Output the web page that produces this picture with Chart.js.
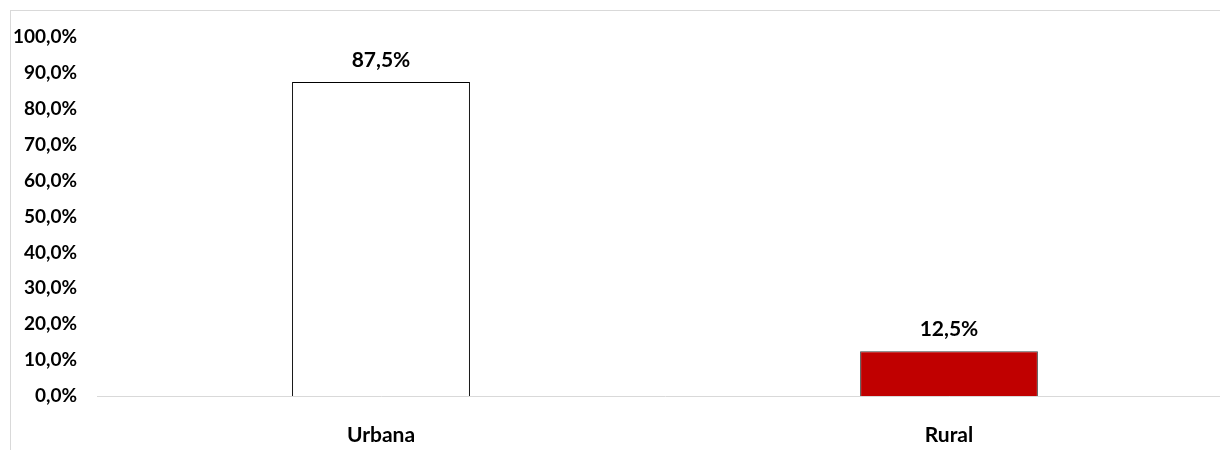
<!DOCTYPE html>
<html>
<head>
<meta charset="utf-8">
<script src="https://cdn.jsdelivr.net/npm/chart.js@4"></script>
<style>
  html, body { margin: 0; padding: 0; background: #fff; overflow: hidden; }
  #frame { position: absolute; left: 10px; top: 10px; width: 1300px; height: 500px;
           border-left: 1px solid #d9d9d9; border-top: 1px solid #d9d9d9; }
  #wrap { position: absolute; left: 0; top: 0; width: 1240px; height: 450px; }
</style>
</head>
<body>
<div id="frame"></div>
<div id="wrap"><canvas id="chart"></canvas></div>
<script>
// data
const categories = ['Urbana', 'Rural'];
const shares = [87.5, 12.5];
const barColors = ['#ffffff', '#c00000'];
const yTicks = [0, 10, 20, 30, 40, 50, 60, 70, 80, 90, 100];

const fmt = v => v.toFixed(1).replace('.', ',') + '%';
const fontFamily = 'Lato, "Liberation Sans", sans-serif';

// labels above each bar
const valueLabels = {
    id: 'valueLabels',
    afterDatasetsDraw(chart) {
        const ctx = chart.ctx;
        const meta = chart.getDatasetMeta(0);
        ctx.save();
        ctx.font = 'bold 21px ' + fontFamily;
        ctx.fillStyle = '#000';
        ctx.textAlign = 'center';
        ctx.textBaseline = 'middle';
        meta.data.forEach((bar, i) => {
            ctx.fillText(fmt(shares[i]), bar.x, bar.y - 22);
        });
        ctx.restore();
    }
};

new Chart(document.getElementById('chart'), {
    type: 'bar',
    data: {
        labels: categories,
        datasets: [{
            data: shares,
            backgroundColor: barColors,
            borderColor: ['#000000', '#404040'],
            borderWidth: 1,
            categoryPercentage: 0.626,
            barPercentage: 0.5
        }]
    },
    options: {
        responsive: true,
        maintainAspectRatio: false,
        animation: false,
        layout: { padding: { top: 37, right: 7, left: 0, bottom: 0 } },
        plugins: { legend: { display: false }, tooltip: { enabled: false } },
        scales: {
            x: {
                grid: { display: false, drawTicks: false },
                border: { display: true, color: '#d9d9d9', width: 1 },
                ticks: { color: '#000', padding: 27, font: { family: fontFamily, size: 21, weight: 'bold' } },
                afterFit: s => { s.height = 54; }
            },
            y: {
                min: 0,
                max: 100,
                grid: { display: false, drawTicks: false },
                border: { display: false },
                afterBuildTicks: s => { s.ticks = yTicks.map(v => ({ value: v })); },
                ticks: {
                    color: '#000',
                    padding: 20,
                    font: { family: fontFamily, size: 19, weight: 'bold' },
                    callback: v => fmt(v)
                },
                afterFit: s => { s.width = 97; }
            }
        }
    },
    plugins: [valueLabels]
});
</script>
</body>
</html>
